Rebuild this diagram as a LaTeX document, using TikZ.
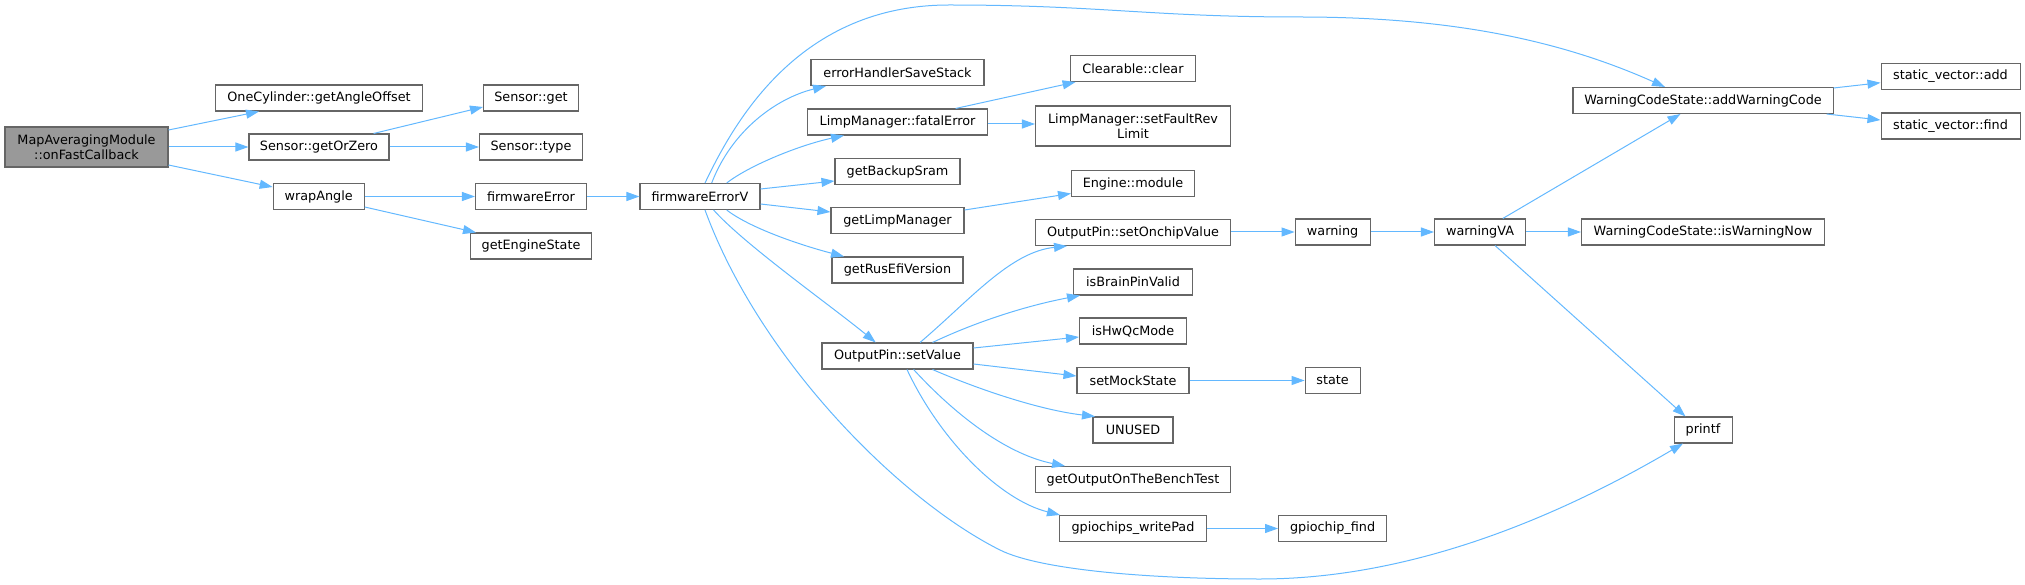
\documentclass[tikz,border=0pt]{standalone}
\usepackage{fontspec}
\setmainfont{DejaVu Sans}
\usetikzlibrary{arrows.meta}
\definecolor{edgeblue}{HTML}{63B8FF}
\definecolor{boxgray}{HTML}{666666}
\definecolor{rootfill}{HTML}{999999}
\tikzset{
  fn/.style={draw=boxgray, line width=1.05pt, fill=white, rectangle, inner sep=0pt,
    minimum height=26pt, font=\fontsize{12.8}{15}\selectfont, align=center},
  rootfn/.style={fn, fill=rootfill, minimum height=40pt},
  twoline/.style={fn, minimum height=40pt},
  call/.style={draw=edgeblue, line width=1pt, -{Triangle[length=13pt,width=9pt]}},
}
\begin{document}
\begin{tikzpicture}[x=1pt,y=-1pt]
\useasboundingbox (0,0) rectangle (2025,585);
% column 1
\node[rootfn, minimum width=163pt] (root) at (86.5,147) {MapAveragingModule\\::onFastCallback};
% column 2
\node[fn, minimum width=207pt] (gao) at (319,98) {OneCylinder::getAngleOffset};
\node[fn, minimum width=140pt] (goz) at (319,147) {Sensor::getOrZero};
\node[fn, minimum width=91pt] (wrap) at (318.7,196.5) {wrapAngle};
% column 3
\node[fn, minimum width=95pt] (sget) at (531,98) {Sensor::get};
\node[fn, minimum width=103pt] (stype) at (531,147) {Sensor::type};
\node[fn, minimum width=111pt] (fe) at (531,196.5) {firmwareError};
\node[fn, minimum width=121.5pt] (ges) at (531,246) {getEngineState};
% column 4
\node[fn, minimum width=120pt] (fev) at (700,196.5) {firmwareErrorV};
% column 5
\node[fn, minimum width=173pt] (ehss) at (897.5,72.5) {errorHandlerSaveStack};
\node[fn, minimum width=180pt] (lmfe) at (897.5,122) {LimpManager::fatalError};
\node[fn, minimum width=125pt] (gbs) at (897.5,171.5) {getBackupSram};
\node[fn, minimum width=133pt] (glm) at (897.5,220.5) {getLimpManager};
\node[fn, minimum width=131pt] (grev) at (897.5,270) {getRusEfiVersion};
\node[fn, minimum width=151pt] (osv) at (897.5,356) {OutputPin::setValue};
% column 6
\node[fn, minimum width=125pt] (cc) at (1133,68.5) {Clearable::clear};
\node[twoline, minimum width=195pt] (sfrl) at (1133,126) {LimpManager::setFaultRev\\Limit};
\node[fn, minimum width=123pt] (em) at (1133,183.5) {Engine::module};
\node[fn, minimum width=195pt] (sov) at (1133,232.5) {OutputPin::setOnchipValue};
\node[fn, minimum width=119pt] (bpv) at (1133,282) {isBrainPinValid};
\node[fn, minimum width=107pt] (hwqc) at (1133,331) {isHwQcMode};
\node[fn, minimum width=112pt] (sms) at (1133,380.5) {setMockState};
\node[fn, minimum width=80pt] (unused) at (1133,430) {UNUSED};
\node[fn, minimum width=195pt] (gotbt) at (1133,479.5) {getOutputOnTheBenchTest};
\node[fn, minimum width=147pt] (gwp) at (1133,528.5) {gpiochips\_writePad};
% column 7
\node[fn, minimum width=75pt] (warn) at (1332.6,232) {warning};
\node[fn, minimum width=55pt] (state) at (1332.6,380.5) {state};
\node[fn, minimum width=108pt] (gcf) at (1332.6,528.5) {gpiochip\_find};
% column 8
\node[fn, minimum width=91pt] (wva) at (1480,232) {warningVA};
% column 9
\node[fn, minimum width=260pt] (awc) at (1703,100.5) {WarningCodeState::addWarningCode};
\node[fn, minimum width=243pt] (iwn) at (1703,232) {WarningCodeState::isWarningNow};
\node[fn, minimum width=58pt] (printf) at (1703,430) {printf};
% column 10
\node[fn, minimum width=139pt] (sva) at (1950.5,76.5) {static\_vector::add};
\node[fn, minimum width=139pt] (svf) at (1950.5,126) {static\_vector::find};

% edges
\draw[call] (root.east |- 0,130) -- (259,0 |- gao.south);
\draw[call] (root.east) -- (goz.west);
\draw[call] (root.east |- 0,165) -- (wrap.west |- 0,187);
\draw[call] (373.6,0 |- goz.north) -- (sget.west |- 0,107);
\draw[call] (goz.east) -- (stype.west);
\draw[call] (wrap.east) -- (fe.west);
\draw[call] (wrap.east |- 0,207) -- (476,0 |- ges.north);
\draw[call] (fe.east) -- (fev.west);

\draw[call] (711.7,0 |- fev.north) .. controls (732,130) and (777,98) .. (826,0 |- ehss.south);
\draw[call] (705,0 |- fev.north) .. controls (735,120) and (800,5) .. (949,5)
  .. controls (1100,5) and (1150,17) .. (1300,17)
  .. controls (1450,17) and (1560,40) .. (1665,0 |- awc.north);
\draw[call] (726.7,0 |- fev.north) .. controls (750,165) and (800,145) .. (844,0 |- lmfe.south);
\draw[call] (fev.east |- 0,189) -- (gbs.west |- 0,181);
\draw[call] (fev.east |- 0,204) -- (glm.west |- 0,212);
\draw[call] (726.7,0 |- fev.south) .. controls (750,228) and (800,245) .. (844,0 |- grev.north);
\draw[call] (713.6,0 |- fev.south) .. controls (745,245) and (830,305) .. (875.7,0 |- osv.north);
\draw[call] (705,0 |- fev.south) .. controls (760,360) and (900,500) .. (1000,550)
  .. controls (1040,570) and (1150,579) .. (1260,579)
  .. controls (1420,579) and (1570,510) .. (1683,0 |- printf.south);

\draw[call] (955.6,0 |- lmfe.north) -- (1075.6,0 |- cc.south);
\draw[call] (lmfe.east |- 0,124) -- (sfrl.west |- 0,124);
\draw[call] (glm.east |- 0,210) -- (em.west |- 0,193.5);

\draw[call] (920,0 |- osv.north) .. controls (970,300) and (1010,252) .. (1067,0 |- sov.south);
\draw[call] (932.5,0 |- osv.north) .. controls (980,320) and (1030,305) .. (1080,0 |- bpv.south);
\draw[call] (osv.east |- 0,348) -- (hwqc.west |- 0,337);
\draw[call] (osv.east |- 0,364) -- (sms.west |- 0,376);
\draw[call] (932.5,0 |- osv.south) .. controls (980,390) and (1040,410) .. (1095,0 |- unused.north);
\draw[call] (913.6,0 |- osv.south) .. controls (960,420) and (1010,455) .. (1065,0 |- gotbt.north);
\draw[call] (907,0 |- osv.south) .. controls (940,440) and (1000,500) .. (1060,0 |- gwp.north);

\draw[call] (sov.east |- 0,232) -- (warn.west);
\draw[call] (warn.east) -- (wva.west);
\draw[call] (1502.8,0 |- wva.north) -- (1680.5,0 |- awc.south);
\draw[call] (wva.east) -- (iwn.west);
\draw[call] (1495,0 |- wva.south) -- (1685.5,0 |- printf.north);
\draw[call] (awc.east |- 0,88) -- (sva.west |- 0,82.7);
\draw[call] (1826.7,0 |- awc.south) -- (svf.west |- 0,120);
\draw[call] (sms.east) -- (state.west);
\draw[call] (gwp.east) -- (gcf.west);
\end{tikzpicture}
\end{document}
